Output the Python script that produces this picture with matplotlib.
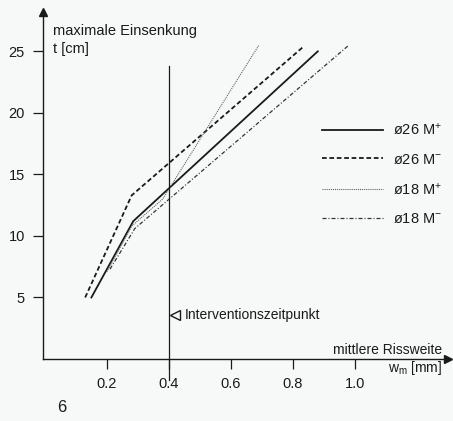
import matplotlib
matplotlib.use("Agg")
import matplotlib.pyplot as plt

plt.rcParams['font.family'] = ['Liberation Sans', 'DejaVu Sans']
plt.rcParams['mathtext.fontset'] = 'custom'
plt.rcParams['mathtext.rm'] = 'Liberation Sans'
plt.rcParams['mathtext.it'] = 'Liberation Sans'

# Data
w_26p = [0.15, 0.285, 0.88]
t_26p = [5.0, 11.2, 25.0]
w_26m = [0.13, 0.28, 0.83]
t_26m = [5.0, 13.3, 25.3]
w_18p = [0.20, 0.28, 0.38, 0.69]
t_18p = [7.1, 10.8, 13.0, 25.5]
w_18m = [0.21, 0.29, 0.98]
t_18m = [7.3, 10.6, 25.5]
labels = ['ø26 M$^{+}$', 'ø26 M$^{-}$', 'ø18 M$^{+}$', 'ø18 M$^{-}$']
xticks = [0.2, 0.4, 0.6, 0.8, 1.0]
xticklabels = ['0.2', '0.4', '0.6', '0.8', '1.0']
yticks = [5, 10, 15, 20, 25]
w_intervention = 0.4
t_intervention_top = 23.8

W, H = 453, 421
bg = '#f6f9f8'
fig = plt.figure(figsize=(W / 100, H / 100), dpi=100, facecolor=bg)
left, right, bottom_px, top_px = 43, 448, 359, 12
ax = fig.add_axes([left / W, (H - bottom_px) / H, (right - left) / W, (bottom_px - top_px) / H])
ax.set_facecolor(bg)
ax.set_xlim(-0.006, 1.300)
ax.set_ylim(0, 28.2)

col = '#1a1a1a'
h1, = ax.plot(w_26p, t_26p, color=col, lw=1.3, linestyle='-')
h2, = ax.plot(w_26m, t_26m, color=col, lw=1.3, linestyle=(0, (2.6, 1.5)))
h3, = ax.plot(w_18p, t_18p, color='#555555', lw=0.75, linestyle=(0, (1, 1)))
h4, = ax.plot(w_18m, t_18m, color='#333333', lw=0.9, linestyle=(0, (3.2, 1.6, 0.8, 1.6)))

ax.plot([w_intervention, w_intervention], [-1.7, t_intervention_top], color=col, lw=0.9, clip_on=False)
ax.plot([w_intervention + 0.02], [3.6], marker='<', markersize=7, markerfacecolor='none',
        markeredgecolor=col, markeredgewidth=1.0, linestyle='none')
ax.text(w_intervention + 0.05, 3.6, 'Interventionszeitpunkt', fontsize=10, va='center', ha='left', color=col)

for s in ['top', 'right']:
    ax.spines[s].set_visible(False)
for s in ['left', 'bottom']:
    ax.spines[s].set_color(col)
    ax.spines[s].set_linewidth(1.0)
    ax.spines[s].set_zorder(0)

ax.set_xticks(xticks)
ax.set_xticklabels(xticklabels)
ax.set_yticks(yticks)
ax.tick_params(axis='both', direction='out', length=7, width=0.9, color=col, labelsize=10.5,
               labelcolor=col, pad=6)

# axis arrows
ax.plot(1, 0, marker='>', color=col, markersize=6, transform=ax.transAxes, clip_on=False)
ax.plot(0, 1, marker='^', color=col, markersize=6, transform=ax.transAxes, clip_on=False)

fig.text(53 / W, 1 - 31 / H, 'maximale Einsenkung', fontsize=10.5, va='center', ha='left', color=col)
fig.text(53 / W, 1 - 49 / H, 't [cm]', fontsize=10.5, va='center', ha='left', color=col)
fig.text(442 / W, 1 - 350 / H, 'mittlere Rissweite', fontsize=10, va='center', ha='right', color=col)
fig.text(442 / W, 1 - 368 / H, 'w$_\\mathrm{m}$ [mm]', fontsize=10, va='center', ha='right', color=col)
fig.text(62 / W, 1 - 408 / H, '6', fontsize=12, va='center', ha='center', color=col)

leg = ax.legend([h1, h2, h3, h4], labels, frameon=False, fontsize=10.5,
                loc='upper left', bbox_to_anchor=(322 / W, 1 - 122 / H), bbox_transform=fig.transFigure,
                borderpad=0, borderaxespad=0, handlelength=4.2, handletextpad=0.7, labelspacing=1.0)
for t in leg.get_texts():
    t.set_color(col)

fig.savefig('out.png', dpi=100, facecolor=bg)
